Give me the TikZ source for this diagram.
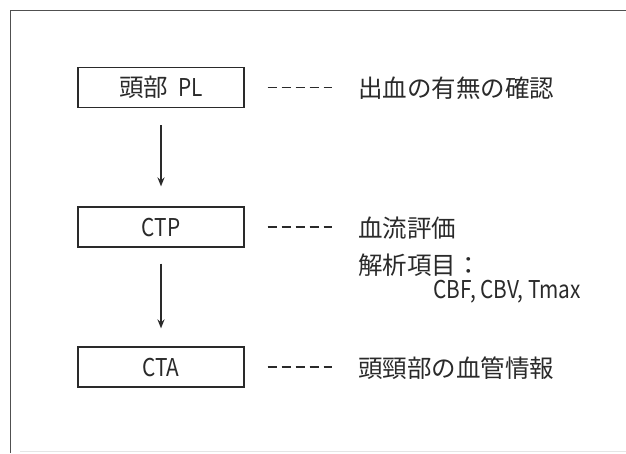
\documentclass[tikz,border=0pt]{standalone}
\usepackage{fontspec}
\setmainfont{Noto Sans CJK JP}
\usetikzlibrary{arrows.meta}
\definecolor{ink}{HTML}{2A2A2A}
\definecolor{framegray}{HTML}{505050}
\newcommand{\lat}[1]{\scalebox{0.85}[1]{#1}}
\begin{document}
\begin{tikzpicture}[x=1pt,y=-1pt,
  stepbox/.style={draw=ink, fill=white, line width=1.2pt, minimum width=166pt, minimum height=40pt,
    inner sep=0pt, text=ink, font=\fontsize{24.5}{28}\selectfont, text height=18pt, text depth=0pt},
  lbl/.style={anchor=base west, inner sep=0pt, text=ink, font=\fontsize{24.5}{28}\selectfont},
  flow/.style={draw=ink, line width=1.6pt, -{Stealth[length=9pt,width=7pt]}},
  dashline/.style={draw=ink, line width=1.6pt, dash pattern=on 9pt off 5pt}]
\useasboundingbox[fill=white] (0,0) rectangle (626,453);
% scanned frame
\draw[framegray, line width=1.5pt] (10.5,453) -- (10.5,10.5) -- (626,10.5);
\draw[gray!20, line width=1pt] (20,451) -- (626,451);
% boxes
\node[stepbox] (b1) at (161,87.5) {頭部\hspace{10pt}\lat{PL}};
\node[stepbox] (b2) at (161,227) {\lat{CTP}};
\node[stepbox] (b3) at (161,367) {\lat{CTA}};
% descriptions
\node[lbl] (t1) at (358,97) {出血の有無の確認};
\node[lbl] (t2) at (358,237) {血流評価};
\node[lbl] (t2b) at (358,274) {解析項目：};
\node[lbl] (t2c) at (433,298) {\lat{CBF, CBV, Tmax}};
\node[lbl] (t3) at (358,377) {頭頸部の血管情報};
% arrows
\draw[flow, shorten <=17pt, shorten >=20pt] (b1) -- (b2);
\draw[flow, shorten <=16pt, shorten >=18pt] (b2) -- (b3);
% dashed leaders
\draw[dashline, shorten <=23pt, shorten >=26pt] (b1.east) -- (b1.east -| t1.west);
\draw[dashline, shorten <=23pt, shorten >=26pt] (b2.east) -- (b2.east -| t2.west);
\draw[dashline, shorten <=23pt, shorten >=26pt] (b3.east) -- (b3.east -| t3.west);
\end{tikzpicture}
\end{document}
